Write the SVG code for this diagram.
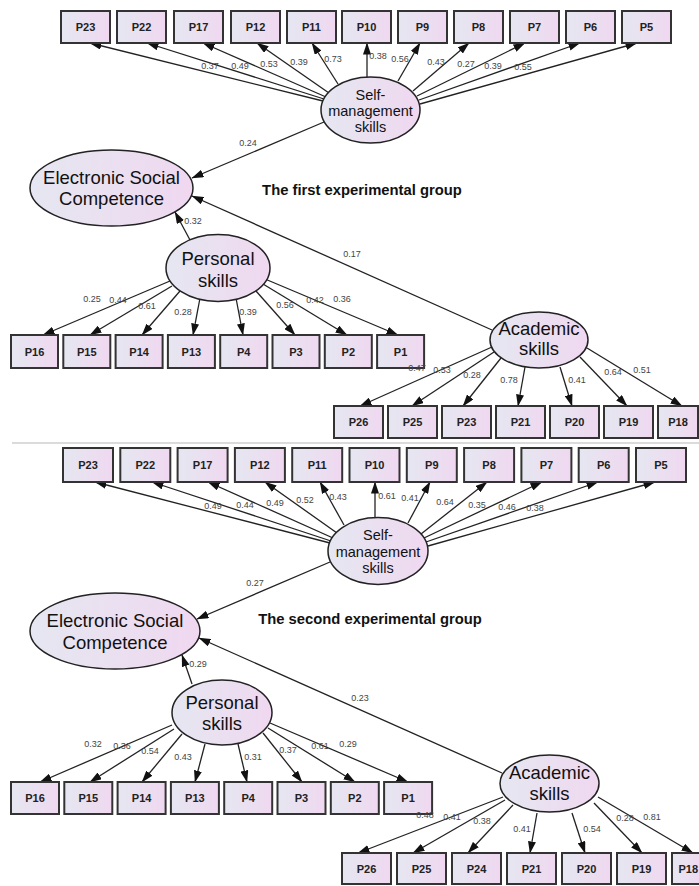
<svg xmlns="http://www.w3.org/2000/svg" width="699" height="886" viewBox="0 0 699 886">
<style>
.bx{fill:url(#g);stroke:#333;stroke-width:2}
.el{fill:url(#g);stroke:#222;stroke-width:1.5}
.bt{font-family:"Liberation Sans",Arial,sans-serif;font-size:11px;font-weight:bold;fill:#222;text-anchor:middle}
.et{font-family:"Liberation Sans",Arial,sans-serif;font-size:18.5px;fill:#111;text-anchor:middle}
.st{font-family:"Liberation Sans",Arial,sans-serif;font-size:14.5px;fill:#111;text-anchor:middle}
.lb{font-family:"Liberation Sans",Arial,sans-serif;font-size:9px;fill:#444;text-anchor:middle}
.ti{font-family:"Liberation Sans",Arial,sans-serif;font-size:14.8px;font-weight:bold;fill:#111;text-anchor:middle}
#connectors line{stroke:#222;stroke-width:1.3;marker-end:url(#ah)}
</style>
<defs>
<linearGradient id="g" x1="0" y1="0" x2="1" y2="0">
<stop offset="0" stop-color="#e5e7f1"/>
<stop offset="1" stop-color="#f0d8f0"/>
</linearGradient>
<marker id="ah" markerWidth="12" markerHeight="8" refX="11.5" refY="4" orient="auto" markerUnits="userSpaceOnUse">
<path d="M0,0 L12,4 L0,8 z" fill="#111"/>
</marker>
</defs>
<rect width="699" height="886" fill="#fff"/>
<line x1="12" y1="443" x2="699" y2="443" stroke="#cfcfcf" stroke-width="1.5"/>

<g id="connectors">
<line x1="323" y1="101" x2="90" y2="43"/>
<line x1="324" y1="99" x2="147" y2="43"/>
<line x1="326" y1="97" x2="203" y2="43"/>
<line x1="329" y1="93" x2="257" y2="43"/>
<line x1="338" y1="84" x2="312" y2="43"/>
<line x1="367" y1="78" x2="367" y2="43"/>
<line x1="398" y1="81" x2="420" y2="43"/>
<line x1="413" y1="91" x2="469" y2="43"/>
<line x1="417" y1="96" x2="525" y2="43"/>
<line x1="419" y1="100" x2="580" y2="43"/>
<line x1="420" y1="104" x2="637" y2="43"/>
<line x1="324" y1="122" x2="192" y2="178"/>
<line x1="492" y1="330" x2="192" y2="196"/>
<line x1="190" y1="240" x2="175" y2="212"/>
<line x1="170" y1="281" x2="43" y2="335"/>
<line x1="172" y1="286" x2="90" y2="335"/>
<line x1="180" y1="291" x2="142" y2="335"/>
<line x1="200" y1="298" x2="193" y2="335"/>
<line x1="236" y1="298" x2="243" y2="335"/>
<line x1="256" y1="291" x2="295" y2="335"/>
<line x1="263" y1="284" x2="347" y2="335"/>
<line x1="265" y1="279" x2="398" y2="335"/>
<line x1="492" y1="347" x2="360" y2="406"/>
<line x1="494" y1="352" x2="412" y2="406"/>
<line x1="501" y1="358" x2="463" y2="406"/>
<line x1="525" y1="367" x2="518" y2="406"/>
<line x1="560" y1="367" x2="572" y2="406"/>
<line x1="580" y1="357" x2="627" y2="406"/>
<line x1="587" y1="348" x2="682" y2="406"/>
<line x1="330" y1="543" x2="95" y2="482"/>
<line x1="331" y1="541" x2="152" y2="482"/>
<line x1="333" y1="538" x2="208" y2="482"/>
<line x1="337" y1="533" x2="265" y2="482"/>
<line x1="344" y1="525" x2="320" y2="482"/>
<line x1="375" y1="519" x2="375" y2="482"/>
<line x1="408" y1="523" x2="430" y2="482"/>
<line x1="421" y1="534" x2="487" y2="482"/>
<line x1="424" y1="538" x2="542" y2="482"/>
<line x1="426" y1="542" x2="598" y2="482"/>
<line x1="428" y1="546" x2="655" y2="482"/>
<line x1="330" y1="562" x2="197" y2="619"/>
<line x1="502" y1="773" x2="199" y2="638"/>
<line x1="192" y1="684" x2="182" y2="655"/>
<line x1="172" y1="725" x2="40" y2="782"/>
<line x1="174" y1="729" x2="90" y2="782"/>
<line x1="182" y1="734" x2="142" y2="782"/>
<line x1="205" y1="744" x2="195" y2="782"/>
<line x1="238" y1="744" x2="247" y2="782"/>
<line x1="263" y1="733" x2="302" y2="782"/>
<line x1="268" y1="728" x2="355" y2="782"/>
<line x1="270" y1="723" x2="408" y2="782"/>
<line x1="503" y1="797" x2="358" y2="853"/>
<line x1="505" y1="800" x2="413" y2="853"/>
<line x1="513" y1="805" x2="468" y2="853"/>
<line x1="537" y1="813" x2="530" y2="853"/>
<line x1="572" y1="813" x2="585" y2="853"/>
<line x1="594" y1="803" x2="642" y2="853"/>
<line x1="598" y1="797" x2="693" y2="853"/>
</g>

<text class="ti" x="362" y="195">The first experimental group</text>
<text class="ti" x="370" y="624">The second experimental group</text>

<g id="t_P23"><rect class="bx" x="61" y="11" width="49" height="32"/><text class="bt" x="85.5" y="31">P23</text></g>
<g id="t_P22"><rect class="bx" x="117" y="11" width="49" height="32"/><text class="bt" x="141.5" y="31">P22</text></g>
<g id="t_P17"><rect class="bx" x="174" y="11" width="49" height="32"/><text class="bt" x="198.5" y="31">P17</text></g>
<g id="t_P12"><rect class="bx" x="231" y="11" width="49" height="32"/><text class="bt" x="255.5" y="31">P12</text></g>
<g id="t_P11"><rect class="bx" x="287" y="11" width="49" height="32"/><text class="bt" x="311.5" y="31">P11</text></g>
<g id="t_P10"><rect class="bx" x="342" y="11" width="49" height="32"/><text class="bt" x="366.5" y="31">P10</text></g>
<g id="t_P9"><rect class="bx" x="398" y="11" width="49" height="32"/><text class="bt" x="422.5" y="31">P9</text></g>
<g id="t_P8"><rect class="bx" x="454" y="11" width="49" height="32"/><text class="bt" x="478.5" y="31">P8</text></g>
<g id="t_P7"><rect class="bx" x="510" y="11" width="49" height="32"/><text class="bt" x="534.5" y="31">P7</text></g>
<g id="t_P6"><rect class="bx" x="566" y="11" width="49" height="32"/><text class="bt" x="590.5" y="31">P6</text></g>
<g id="t_P5"><rect class="bx" x="622" y="11" width="49" height="32"/><text class="bt" x="646.5" y="31">P5</text></g>

<g id="t_self"><ellipse class="el" cx="370.5" cy="110" rx="49.5" ry="33"/><text class="st" x="370.5" y="100">Self-</text><text class="st" x="370.5" y="116">management</text><text class="st" x="370.5" y="132">skills</text></g>
<g id="t_esc"><ellipse class="el" cx="111.5" cy="188" rx="81.5" ry="38"/><text class="et" x="111.5" y="183.5">Electronic Social</text><text class="et" x="111.5" y="204.5">Competence</text></g>
<g id="t_personal"><ellipse class="el" cx="218" cy="268" rx="52" ry="33.5"/><text class="et" x="218" y="264.5">Personal</text><text class="et" x="218" y="286.5">skills</text></g>
<g id="t_academic"><ellipse class="el" cx="539" cy="340" rx="49" ry="28"/><text class="et" x="539" y="334.5">Academic</text><text class="et" x="539" y="354.5">skills</text></g>

<g id="t_P16"><rect class="bx" x="11" y="335" width="47" height="33"/><text class="bt" x="34.5" y="355.5">P16</text></g>
<g id="t_P15"><rect class="bx" x="63.3" y="335" width="47" height="33"/><text class="bt" x="86.8" y="355.5">P15</text></g>
<g id="t_P14"><rect class="bx" x="115.6" y="335" width="47" height="33"/><text class="bt" x="139.1" y="355.5">P14</text></g>
<g id="t_P13"><rect class="bx" x="167.9" y="335" width="47" height="33"/><text class="bt" x="191.4" y="355.5">P13</text></g>
<g id="t_P4"><rect class="bx" x="220.2" y="335" width="47" height="33"/><text class="bt" x="243.7" y="355.5">P4</text></g>
<g id="t_P3"><rect class="bx" x="272.5" y="335" width="47" height="33"/><text class="bt" x="296" y="355.5">P3</text></g>
<g id="t_P2"><rect class="bx" x="324.8" y="335" width="47" height="33"/><text class="bt" x="348.3" y="355.5">P2</text></g>
<g id="t_P1"><rect class="bx" x="377.1" y="335" width="47" height="33"/><text class="bt" x="400.6" y="355.5">P1</text></g>

<g id="t_P26"><rect class="bx" x="334" y="406" width="49" height="32"/><text class="bt" x="358.5" y="426">P26</text></g>
<g id="t_P25"><rect class="bx" x="388" y="406" width="49" height="32"/><text class="bt" x="412.5" y="426">P25</text></g>
<g id="t_P23b"><rect class="bx" x="442" y="406" width="49" height="32"/><text class="bt" x="466.5" y="426">P23</text></g>
<g id="t_P21"><rect class="bx" x="496" y="406" width="49" height="32"/><text class="bt" x="520.5" y="426">P21</text></g>
<g id="t_P20"><rect class="bx" x="550" y="406" width="49" height="32"/><text class="bt" x="574.5" y="426">P20</text></g>
<g id="t_P19"><rect class="bx" x="604" y="406" width="49" height="32"/><text class="bt" x="628.5" y="426">P19</text></g>
<g id="t_P18"><rect class="bx" x="658" y="406" width="40" height="32"/><text class="bt" x="678" y="426">P18</text></g>

<g id="b_P23"><rect class="bx" x="63" y="448" width="50" height="34"/><text class="bt" x="88" y="469">P23</text></g>
<g id="b_P22"><rect class="bx" x="120.3" y="448" width="50" height="34"/><text class="bt" x="145.3" y="469">P22</text></g>
<g id="b_P17"><rect class="bx" x="177.6" y="448" width="50" height="34"/><text class="bt" x="202.6" y="469">P17</text></g>
<g id="b_P12"><rect class="bx" x="234.9" y="448" width="50" height="34"/><text class="bt" x="259.9" y="469">P12</text></g>
<g id="b_P11"><rect class="bx" x="292.2" y="448" width="50" height="34"/><text class="bt" x="317.2" y="469">P11</text></g>
<g id="b_P10"><rect class="bx" x="349.5" y="448" width="50" height="34"/><text class="bt" x="374.5" y="469">P10</text></g>
<g id="b_P9"><rect class="bx" x="406.8" y="448" width="50" height="34"/><text class="bt" x="431.8" y="469">P9</text></g>
<g id="b_P8"><rect class="bx" x="464.1" y="448" width="50" height="34"/><text class="bt" x="489.1" y="469">P8</text></g>
<g id="b_P7"><rect class="bx" x="521.4" y="448" width="50" height="34"/><text class="bt" x="546.4" y="469">P7</text></g>
<g id="b_P6"><rect class="bx" x="578.7" y="448" width="50" height="34"/><text class="bt" x="603.7" y="469">P6</text></g>
<g id="b_P5"><rect class="bx" x="636" y="448" width="50" height="34"/><text class="bt" x="661" y="469">P5</text></g>

<g id="b_self"><ellipse class="el" cx="378" cy="551" rx="50" ry="33.5"/><text class="st" x="378" y="540">Self-</text><text class="st" x="378" y="557">management</text><text class="st" x="378" y="573">skills</text></g>
<g id="b_esc"><ellipse class="el" cx="115" cy="631" rx="85" ry="38"/><text class="et" x="115" y="626.5">Electronic Social</text><text class="et" x="115" y="648.5">Competence</text></g>
<g id="b_personal"><ellipse class="el" cx="222" cy="712.5" rx="50" ry="32.5"/><text class="et" x="222" y="708.5">Personal</text><text class="et" x="222" y="729.5">skills</text></g>
<g id="b_academic"><ellipse class="el" cx="549.5" cy="783.5" rx="49.5" ry="28.5"/><text class="et" x="549.5" y="778.5">Academic</text><text class="et" x="549.5" y="799.5">skills</text></g>

<g id="b_P16"><rect class="bx" x="11" y="782" width="48" height="32"/><text class="bt" x="35" y="802">P16</text></g>
<g id="b_P15"><rect class="bx" x="64.3" y="782" width="48" height="32"/><text class="bt" x="88.3" y="802">P15</text></g>
<g id="b_P14"><rect class="bx" x="117.6" y="782" width="48" height="32"/><text class="bt" x="141.6" y="802">P14</text></g>
<g id="b_P13"><rect class="bx" x="170.9" y="782" width="48" height="32"/><text class="bt" x="194.9" y="802">P13</text></g>
<g id="b_P4"><rect class="bx" x="224.2" y="782" width="48" height="32"/><text class="bt" x="248.2" y="802">P4</text></g>
<g id="b_P3"><rect class="bx" x="277.5" y="782" width="48" height="32"/><text class="bt" x="301.5" y="802">P3</text></g>
<g id="b_P2"><rect class="bx" x="330.8" y="782" width="48" height="32"/><text class="bt" x="354.8" y="802">P2</text></g>
<g id="b_P1"><rect class="bx" x="384.1" y="782" width="48" height="32"/><text class="bt" x="408.1" y="802">P1</text></g>

<g id="b_P26"><rect class="bx" x="342" y="853" width="49" height="31"/><text class="bt" x="366.5" y="872.5">P26</text></g>
<g id="b_P25"><rect class="bx" x="397" y="853" width="49" height="31"/><text class="bt" x="421.5" y="872.5">P25</text></g>
<g id="b_P24"><rect class="bx" x="452" y="853" width="49" height="31"/><text class="bt" x="476.5" y="872.5">P24</text></g>
<g id="b_P21"><rect class="bx" x="507" y="853" width="49" height="31"/><text class="bt" x="531.5" y="872.5">P21</text></g>
<g id="b_P20"><rect class="bx" x="562" y="853" width="49" height="31"/><text class="bt" x="586.5" y="872.5">P20</text></g>
<g id="b_P19"><rect class="bx" x="617" y="853" width="49" height="31"/><text class="bt" x="641.5" y="872.5">P19</text></g>
<g id="b_P18"><rect class="bx" x="672" y="853" width="30" height="31"/><text class="bt" x="678.5" y="872.5" style="text-anchor:start">P18</text></g>

<g id="labels">
<text class="lb" x="210" y="69">0.37</text>
<text class="lb" x="240" y="69">0.49</text>
<text class="lb" x="269" y="67">0.53</text>
<text class="lb" x="299" y="65">0.39</text>
<text class="lb" x="333" y="62">0.73</text>
<text class="lb" x="378" y="59">0.38</text>
<text class="lb" x="400" y="62">0.56</text>
<text class="lb" x="436" y="65">0.43</text>
<text class="lb" x="466" y="67">0.27</text>
<text class="lb" x="493" y="69">0.39</text>
<text class="lb" x="523" y="70">0.55</text>
<text class="lb" x="248" y="146">0.24</text>
<text class="lb" x="352" y="257">0.17</text>
<text class="lb" x="193" y="224">0.32</text>
<text class="lb" x="92" y="302">0.25</text>
<text class="lb" x="118" y="303">0.44</text>
<text class="lb" x="147" y="309">0.61</text>
<text class="lb" x="183" y="315">0.28</text>
<text class="lb" x="248" y="315">0.39</text>
<text class="lb" x="285" y="308">0.56</text>
<text class="lb" x="315" y="303">0.42</text>
<text class="lb" x="342" y="302">0.36</text>
<text class="lb" x="417" y="371">0.47</text>
<text class="lb" x="442" y="373">0.53</text>
<text class="lb" x="472" y="378">0.28</text>
<text class="lb" x="509" y="383">0.78</text>
<text class="lb" x="577" y="383">0.41</text>
<text class="lb" x="613" y="375">0.64</text>
<text class="lb" x="642" y="373">0.51</text>
<text class="lb" x="213" y="509">0.49</text>
<text class="lb" x="245" y="508">0.44</text>
<text class="lb" x="275" y="506">0.49</text>
<text class="lb" x="305" y="503">0.52</text>
<text class="lb" x="338" y="500">0.43</text>
<text class="lb" x="387" y="499">0.61</text>
<text class="lb" x="410" y="501">0.41</text>
<text class="lb" x="445" y="505">0.64</text>
<text class="lb" x="477" y="508">0.35</text>
<text class="lb" x="507" y="510">0.46</text>
<text class="lb" x="535" y="511">0.38</text>
<text class="lb" x="255" y="586">0.27</text>
<text class="lb" x="360" y="701">0.23</text>
<text class="lb" x="198" y="667">0.29</text>
<text class="lb" x="93" y="747">0.32</text>
<text class="lb" x="122" y="749">0.36</text>
<text class="lb" x="150" y="754">0.54</text>
<text class="lb" x="183" y="760">0.43</text>
<text class="lb" x="253" y="760">0.31</text>
<text class="lb" x="288" y="753">0.37</text>
<text class="lb" x="320" y="749">0.61</text>
<text class="lb" x="348" y="747">0.29</text>
<text class="lb" x="425" y="818">0.48</text>
<text class="lb" x="452" y="820">0.41</text>
<text class="lb" x="482" y="824">0.38</text>
<text class="lb" x="522" y="832">0.41</text>
<text class="lb" x="592" y="832">0.54</text>
<text class="lb" x="625" y="821">0.28</text>
<text class="lb" x="652" y="820">0.81</text>
</g>
</svg>
